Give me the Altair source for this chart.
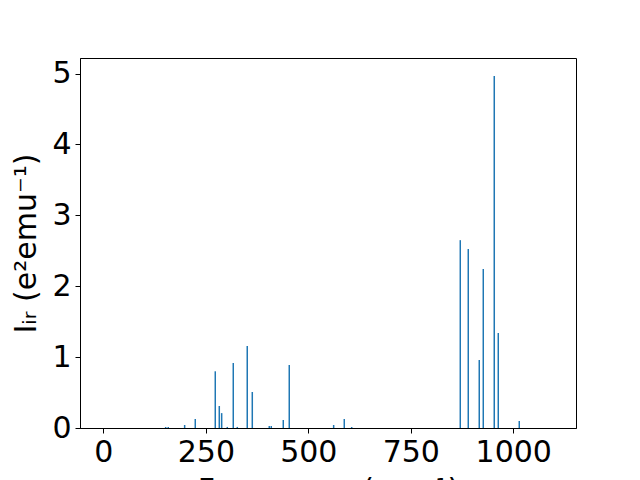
import altair as alt
import pandas as pd

freqs = [152.0, 158.3, 198.3, 224.2, 273.0, 282.8, 288.6, 302.3, 316.9, 326.7,
         351.0, 363.3, 404.7, 409.6, 438.9, 453.5, 561.8, 587.7, 605.8,
         870.7, 890.2, 917.0, 926.8, 953.6, 963.4, 1014.6]
intensities = [0.014, 0.014, 0.042, 0.127, 0.80, 0.31, 0.21, 0.015, 0.917, 0.015,
               1.157, 0.508, 0.028, 0.028, 0.113, 0.889, 0.042, 0.127, 0.014,
               2.65, 2.525, 0.959, 2.243, 4.965, 1.34, 0.099]
x_ticks = [0, 250, 500, 750, 1000]
y_ticks = [0, 1, 2, 3, 4, 5]

df = pd.DataFrame({"freq": freqs, "inten": intensities, "base": [0.0] * len(freqs)})

chart = alt.Chart(df).mark_rule(color="#1f77b4", strokeWidth=1.5).encode(
    x=alt.X("freq:Q",
            scale=alt.Scale(domain=[-57, 1153], nice=False, zero=False),
            axis=alt.Axis(values=x_ticks, format="d", title="Frequency (cm⁻¹)", titlePadding=8)),
    y=alt.Y("base:Q",
            scale=alt.Scale(domain=[0, 5.22], nice=False),
            axis=alt.Axis(values=y_ticks, format="d", title="Iᵢᵣ (e²emu⁻¹)", titlePadding=10)),
    y2="inten:Q",
).properties(
    width=496, height=370,
    autosize="none",
    padding={"left": 72, "top": 50, "right": 56, "bottom": 52},
).configure_axis(
    grid=False,
    labelFont="DejaVu Sans", labelFontSize=30, labelColor="black",
    titleFont="DejaVu Sans", titleFontSize=30, titleColor="black", titleFontWeight="normal",
    tickColor="black", tickSize=5, tickWidth=1,
    domainColor="black", domainWidth=1, labelPadding=4,
).configure_view(stroke="black", strokeWidth=1)

chart.save("out.html", embed_options={"renderer": "svg", "actions": False})
